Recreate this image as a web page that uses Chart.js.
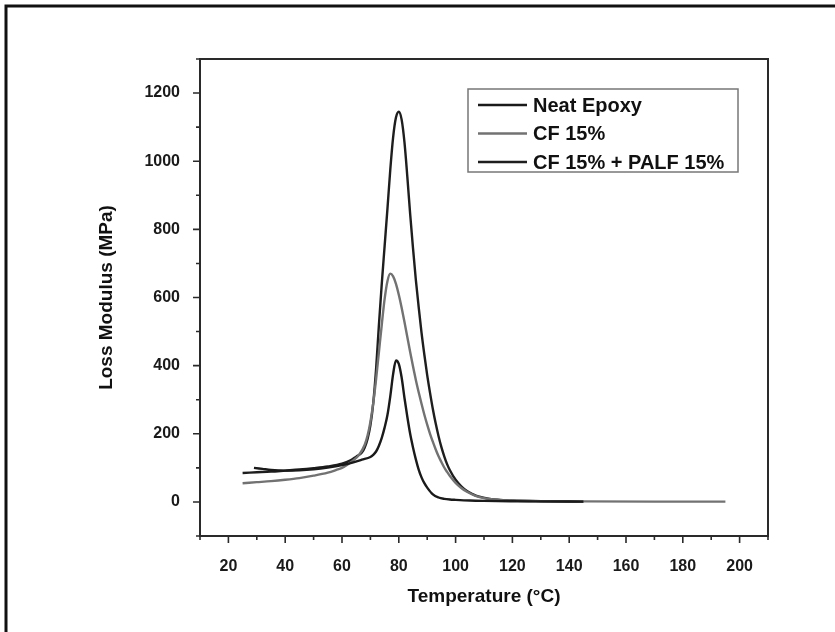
<!DOCTYPE html>
<html><head><meta charset="utf-8">
<script src="https://cdn.jsdelivr.net/npm/chart.js@4.4.0/dist/chart.umd.min.js"></script>
<style>html,body{margin:0;padding:0;background:#fff}canvas{display:block}</style>
</head><body>
<canvas id="c" width="835" height="632"></canvas>
<script>
const seriesLabels = ['Neat Epoxy', 'CF 15%', 'CF 15% + PALF 15%'];

const neatTemp = [29,32,35,40,45,50,55,60,64,67,70,71,72,73,74,75,76,77,78,79,80,81,82,83,84,85,86,87,88,89,90,92,94,96,98,100,105,110,120,130,145];
const neatLoss = [100,97,94,92,93,96,101,108,116,124,132,138,148,165,188,218,255,310,375,415,405,365,305,250,200,160,125,95,72,55,42,22,13,9,7,6,4,3,2,1.5,1];

const cfTemp = [25,30,35,40,45,50,55,58,60,62,64,66,68,69,70,71,72,73,74,75,76,77,78,79,80,81,82,83,84,85,86,87,88,89,90,91,92,93,94,95,96,97,98,100,102,104,107,110,115,120,130,145,170,195];
const cfLoss = [55,58,61,65,70,77,86,94,100,110,122,138,168,195,235,290,360,440,520,595,648,670,662,640,608,570,528,484,440,398,358,322,288,256,227,200,176,154,134,117,101,88,76,56,41,30,18,11,6,4,2.5,1.5,1,1];

const hybTemp = [25,30,35,40,45,50,55,60,63,65,67,68,69,70,71,72,73,74,75,76,77,78,79,80,81,82,83,84,85,86,87,88,89,90,91,92,93,94,95,96,97,98,100,102,104,106,108,112,120,130,145];
const hybLoss = [85,87,89,92,95,99,104,112,122,133,145,160,185,225,290,390,520,640,750,860,975,1070,1128,1145,1122,1055,955,845,745,652,572,497,432,372,320,272,230,193,161,134,111,93,65,46,32,23,16,9,4,2,1];

const xTickLabels = [20,40,60,80,100,120,140,160,180,200];
const yTickLabels = [0,200,400,600,800,1000,1200];

const toPts = (t, v) => t.map((x, i) => ({x, y: v[i]}));
const FONT = "'Liberation Sans', Arial, sans-serif";

const decor = {
  id: 'decor',
  afterDraw(chart) {
    const {ctx, chartArea: a, scales: {x, y}} = chart;
    ctx.save();
    // outer figure border (left + top)
    ctx.strokeStyle = '#111'; ctx.lineWidth = 3;
    ctx.beginPath(); ctx.moveTo(6, 632); ctx.lineTo(6, 6); ctx.lineTo(835, 6); ctx.stroke();
    // plot frame
    ctx.strokeStyle = '#2a2a2a'; ctx.lineWidth = 2;
    ctx.strokeRect(a.left, a.top, a.right - a.left, a.bottom - a.top);
    // ticks
    ctx.lineWidth = 1.6;
    ctx.beginPath();
    x.ticks.forEach(t => {
      const px = x.getPixelForValue(t.value);
      const len = xTickLabels.includes(t.value) ? 7 : 4;
      ctx.moveTo(px, a.bottom); ctx.lineTo(px, a.bottom + len);
    });
    y.ticks.forEach(t => {
      const py = y.getPixelForValue(t.value);
      const len = yTickLabels.includes(t.value) ? 7 : 4;
      ctx.moveTo(a.left, py); ctx.lineTo(a.left - len, py);
    });
    ctx.stroke();
    // legend
    const bx = 468, by = 89, bw = 270, bh = 83;
    ctx.strokeStyle = '#777'; ctx.lineWidth = 1.5;
    ctx.strokeRect(bx, by, bw, bh);
    ctx.font = "bold 20px " + FONT;
    ctx.textBaseline = 'middle'; ctx.textAlign = 'left';
    chart.data.datasets.forEach((ds, i) => {
      const ly = by + 16 + i * 28.5;
      ctx.strokeStyle = ds.borderColor; ctx.lineWidth = 2.4;
      ctx.beginPath(); ctx.moveTo(478, ly); ctx.lineTo(527, ly); ctx.stroke();
      ctx.fillStyle = '#111';
      ctx.fillText(ds.label, 533, ly + 1);
    });
    ctx.restore();
  }
};

new Chart(document.getElementById('c'), {
  type: 'line',
  data: {
    datasets: [
      {label: seriesLabels[0], data: toPts(neatTemp, neatLoss), borderColor: '#1a1a1a'},
      {label: seriesLabels[1], data: toPts(cfTemp, cfLoss), borderColor: '#727272'},
      {label: seriesLabels[2], data: toPts(hybTemp, hybLoss), borderColor: '#1e1e1e'}
    ]
  },
  options: {
    responsive: false,
    animation: false,
    devicePixelRatio: 1,
    elements: {
      point: {radius: 0},
      line: {borderWidth: 2.4, cubicInterpolationMode: 'monotone', fill: false}
    },
    layout: {padding: {left: 0, top: 59, right: 67, bottom: 0}},
    plugins: {legend: {display: false}, tooltip: {enabled: false}},
    scales: {
      x: {
        type: 'linear', min: 10, max: 210,
        grid: {display: false}, border: {display: false},
        ticks: {
          stepSize: 10, padding: 13, color: '#1a1a1a',
          font: {family: FONT, size: 16, weight: 'bold'},
          maxRotation: 0, autoSkip: false,
          callback: v => xTickLabels.includes(v) ? String(v) : ''
        },
        title: {display: true, text: 'Temperature (°C)', color: '#111',
          font: {family: FONT, size: 19, weight: 'bold'}, padding: {top: 0, bottom: 24}},
        afterFit: s => { s.height = 96; }
      },
      y: {
        type: 'linear', min: -100, max: 1300,
        grid: {display: false}, border: {display: false},
        ticks: {
          stepSize: 100, padding: 12, color: '#1a1a1a',
          font: {family: FONT, size: 16, weight: 'bold'}, autoSkip: false,
          callback: v => yTickLabels.includes(v) ? String(v) : ''
        },
        title: {display: true, text: 'Loss Modulus (MPa)', color: '#111',
          font: {family: FONT, size: 19, weight: 'bold'}, padding: {top: 95, bottom: 0}},
        afterFit: s => { s.width = 200; }
      }
    }
  },
  plugins: [decor]
});
</script>
</body></html>
